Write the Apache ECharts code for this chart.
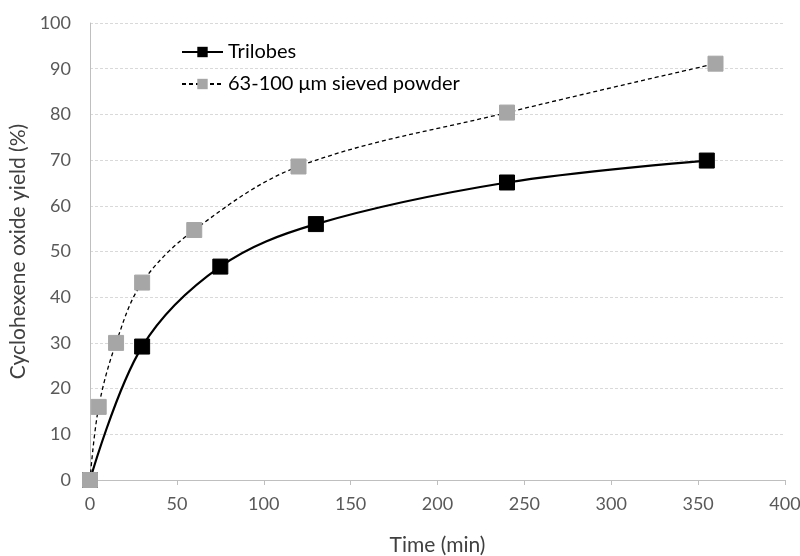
<!DOCTYPE html>
<html>
<head>
<meta charset="utf-8">
<script src="https://cdn.jsdelivr.net/npm/echarts@6/dist/echarts.min.js"></script>
<style>html,body{margin:0;padding:0;background:#fff;}#c{width:800px;height:556px;}</style>
</head>
<body>
<div id="c"></div>
<script>
const trilobesTime = [0, 30, 75, 130, 240, 355];
const trilobesYield = [0, 29.2, 46.7, 56.0, 65.1, 69.9];
const powderTime = [0, 5, 15, 30, 60, 120, 240, 360];
const powderYield = [0, 16.0, 30.0, 43.2, 54.7, 68.6, 80.4, 91.1];
const seriesNames = ['Trilobes', '63-100 μm sieved powder'];

const font = 'Lato, "Open Sans", sans-serif';
const chart = echarts.init(document.getElementById('c'));
chart.setOption({
  animation: false,
  backgroundColor: '#fff',
  grid: { left: 90, right: 15, top: 23, bottom: 76, containLabel: false, outerBoundsMode: 'none' },
  legend: {
    orient: 'vertical',
    left: 176, top: 37,
    itemWidth: 41, itemHeight: 13, itemGap: 12,
    textStyle: { fontFamily: font, fontSize: 20, color: '#000' },
    data: seriesNames
  },
  xAxis: {
    type: 'value', min: 0, max: 400, interval: 50,
    name: 'Time (min)', nameLocation: 'middle', nameGap: 55,
    nameTextStyle: { fontFamily: font, fontSize: 21, color: '#404040' },
    axisLine: { lineStyle: { color: '#bfbfbf', width: 1 } },
    axisTick: { show: true, length: 5, lineStyle: { color: '#bfbfbf' } },
    axisLabel: { fontFamily: font, fontSize: 18, color: '#595959', margin: 15 },
    splitLine: { show: false }
  },
  yAxis: {
    type: 'value', min: 0, max: 100, interval: 10,
    name: 'Cyclohexene oxide yield (%)', nameLocation: 'middle', nameGap: 59,
    nameTextStyle: { fontFamily: font, fontSize: 21, color: '#404040' },
    axisLine: { show: true, lineStyle: { color: '#bfbfbf', width: 1 } },
    axisTick: { show: false },
    axisLabel: { fontFamily: font, fontSize: 18, color: '#595959', margin: 19 },
    splitLine: { show: true, lineStyle: { color: '#d9d9d9', type: [3, 2], width: 1 } }
  },
  series: [
    {
      name: seriesNames[0], type: 'line', smooth: 0.35,
      data: trilobesTime.map((t, i) => [t, trilobesYield[i]]),
      symbol: 'rect', symbolSize: 15,
      itemStyle: { color: '#000', borderColor: '#000' },
      lineStyle: { color: '#000', width: 2.2 },
      z: 2
    },
    {
      name: seriesNames[1], type: 'line', smooth: 0.35,
      data: powderTime.map((t, i) => [t, powderYield[i]]),
      symbol: 'rect', symbolSize: 15,
      itemStyle: { color: '#a6a6a6', borderColor: '#a6a6a6' },
      lineStyle: { color: '#000', width: 1.3, type: [4, 3] },
      z: 3
    }
  ]
});
</script>
</body>
</html>
